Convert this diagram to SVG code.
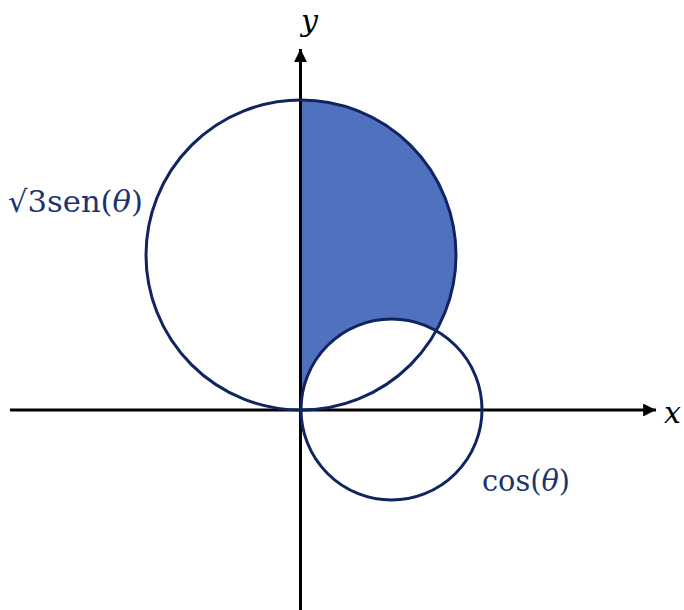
<svg xmlns="http://www.w3.org/2000/svg" width="684" height="610" viewBox="0 0 684 610">
<style>
.curve{fill:none;stroke:#0f2461;stroke-width:3}
.axis{stroke:#000;stroke-width:3;fill:none}
.lbl{font-family:"DejaVu Serif","Liberation Serif",serif;fill:#1b3470;font-size:30px}
.ax{font-family:"DejaVu Serif","Liberation Serif",serif;font-style:italic;fill:#000;font-size:30px}
</style>
<defs>
<marker id="arr" viewBox="0 0 10 10" refX="10" refY="5" markerWidth="4.3" markerHeight="4.3" orient="auto" markerUnits="strokeWidth">
<path d="M0,0 L10,5 L0,10 Z" fill="#000"/>
</marker>
</defs>
<rect width="684" height="610" fill="#fff"/>
<g id="region">
<path d="M301,100 A155,155 0 0 1 436,331.2 A90.5,90.5 0 0 0 301,410 Z" fill="#5072be"/>
</g>
<g id="connectors">
<line class="axis" x1="10" y1="410" x2="656" y2="410" marker-end="url(#arr)"/>
<line class="axis" x1="300.5" y1="610" x2="300.5" y2="49" marker-end="url(#arr)"/>
</g>
<g id="big-circle">
<circle class="curve" cx="301" cy="255" r="155" stroke-width="3.5"/>
</g>
<g id="small-circle">
<circle class="curve" cx="391.5" cy="409.5" r="90.5"/>
</g>
<g id="labels">
<text class="lbl" x="8" y="212" textLength="135" lengthAdjust="spacingAndGlyphs">√3sen(<tspan font-style="italic">θ</tspan>)</text>
<text class="lbl" x="482" y="491" textLength="88" lengthAdjust="spacingAndGlyphs">cos(<tspan font-style="italic">θ</tspan>)</text>
<text class="ax" x="664" y="423">x</text>
<text class="ax" x="301" y="31">y</text>
</g>
</svg>
